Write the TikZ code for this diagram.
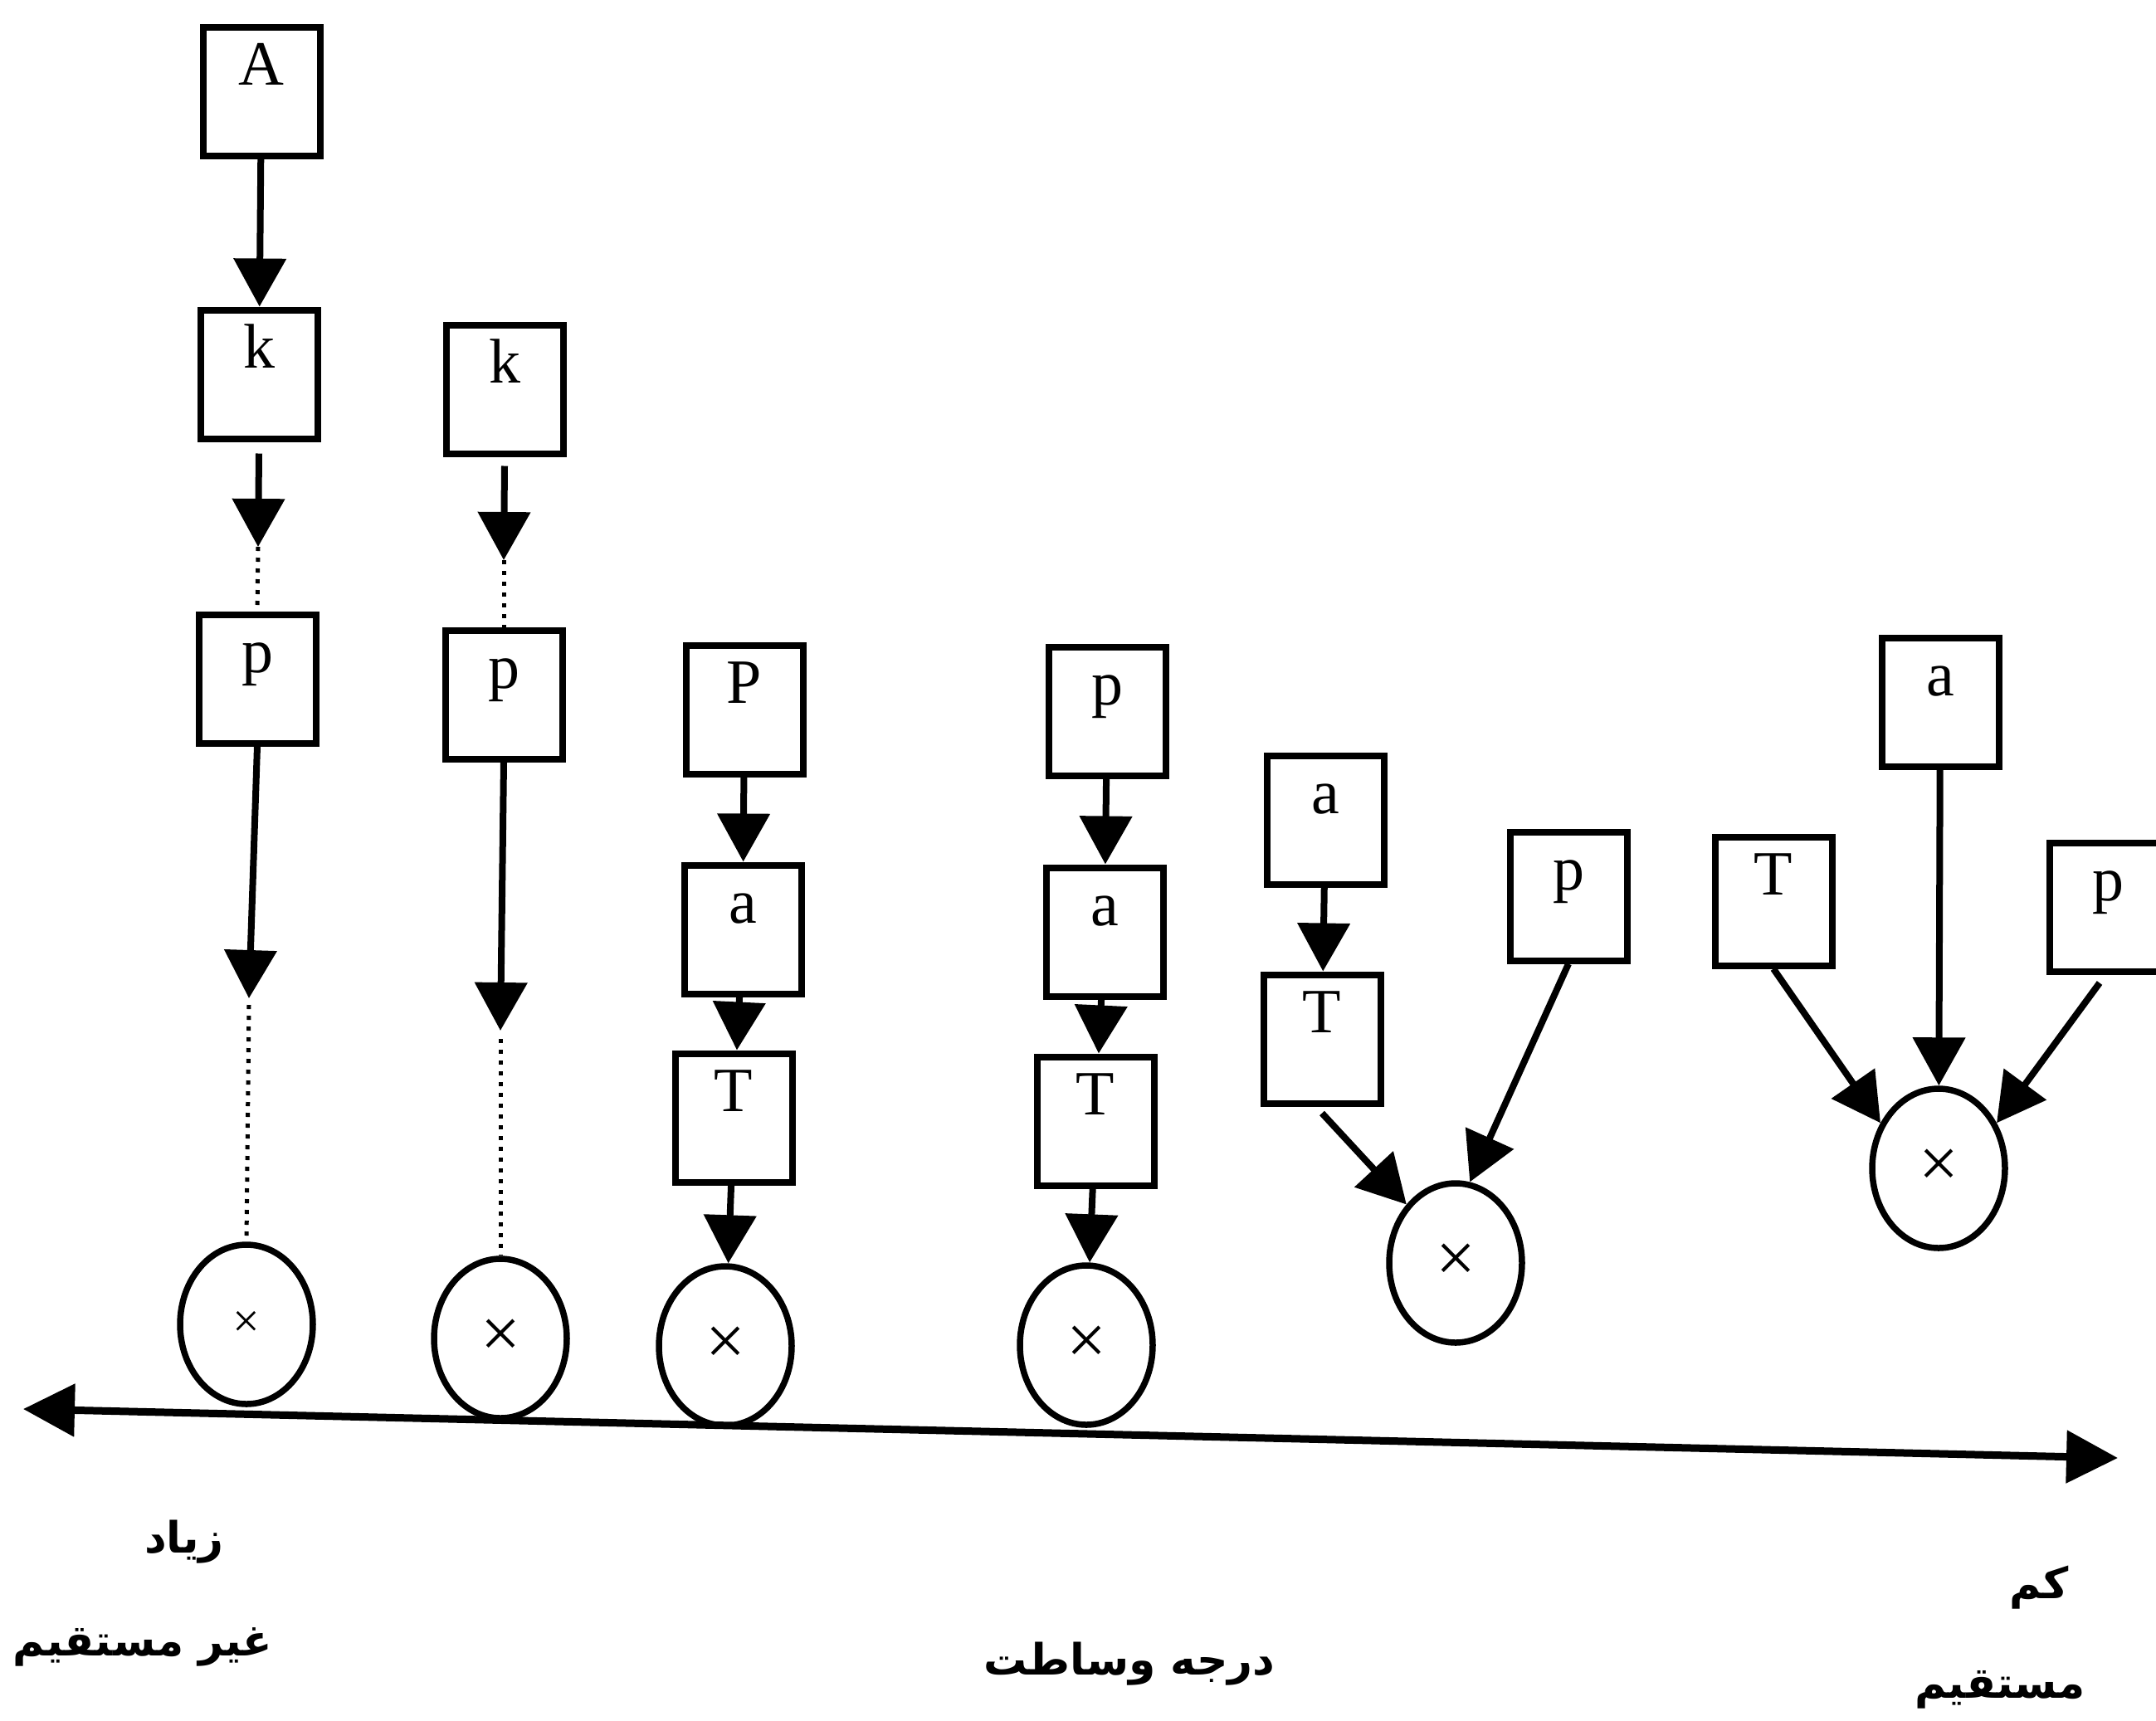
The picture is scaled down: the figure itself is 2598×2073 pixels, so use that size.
\documentclass[tikz,border=0pt]{standalone}
\usepackage{fontspec}
\setmainfont{Liberation Serif}
\newfontfamily\arabicfont[Script=Arabic]{DejaVu Sans}
\TeXXeTstate=1
\usetikzlibrary{arrows.meta,shapes.geometric}
\begin{document}
\begin{tikzpicture}[x=1pt,y=-1pt,
  box/.style={draw, line width=8pt, minimum width=141pt, minimum height=155pt,
    inner xsep=0pt, inner ysep=0pt, text height=70pt, text depth=85pt,
    font=\fontsize{76}{76}\selectfont},
  oval/.style={draw, ellipse, line width=7.5pt, minimum width=160pt, minimum height=192pt,
    inner sep=0pt, font=\fontsize{85}{85}\selectfont},
  arr/.style={line width=8pt, -{Triangle[width=62pt,length=58pt]}},
  dotline/.style={line width=5pt, dash pattern=on 5pt off 8pt},
  fa/.style={font=\arabicfont\bfseries\fontsize{52}{60}\selectfont, inner sep=0pt}
]
\useasboundingbox (0,0) rectangle (2598,2073);
\clip (0,0) rectangle (2598,2073);

% column 1
\node[box] (A) at (315,110) {A};
\node[box] (k1) at (312,451) {k};
\node[box] (p1) at (310,818) {p};
\node[oval, font=\fontsize{58}{58}\selectfont] (e1) at (297,1596) {×};
\coordinate (c1a) at (311,659);
\coordinate (c1b) at (300,1203);
\draw[arr] (A) -- (k1);
\draw[arr] ([yshift=-14pt]k1.south) -- (c1a);
\draw[dotline] (c1a) -- (p1.north);
\draw[arr] (p1.south) -- (c1b);
\draw[dotline] ([yshift=-8pt]c1b) -- (e1.north);

% column 2
\node[box] (k2) at (608,469) {k};
\node[box] (p2) at (607,837) {p};
\node[oval] (e2) at (603,1613) {×};
\coordinate (c2a) at (607,675);
\coordinate (c2b) at (603,1242);
\draw[arr] ([yshift=-11pt]k2.south) -- (c2a);
\draw[dotline] (c2a) -- (p2.north);
\draw[arr] (p2.south) -- (c2b);
\draw[dotline] ([yshift=-10pt]c2b) -- (e2.north);

% column 3
\node[box] (P3) at (897,855) {P};
\node[box] (a3) at (895,1120) {a};
\node[box] (T3) at (884,1347) {T};
\node[oval] (e3) at (874,1622) {×};
\draw[arr] (P3) -- (a3);
\draw[arr] (a3) -- (T3);
\draw[arr] (T3) -- (e3);

% column 4
\node[box] (p4) at (1334,857) {p};
\node[box] (a4) at (1331,1123) {a};
\node[box] (T4) at (1320,1351) {T};
\node[oval] (e4) at (1309,1621) {×};
\draw[arr] (p4) -- (a4);
\draw[arr] (a4) -- (T4);
\draw[arr] (T4) -- (e4);

% column 5
\node[box] (a5) at (1597,988) {a};
\node[box] (T5) at (1593,1252) {T};
\node[box] (p5) at (1890,1080) {p};
\node[oval] (e5) at (1754,1522) {×};
\draw[arr] (a5) -- (T5);
\draw[arr] ([yshift=-8pt]T5.south) -- (e5.130);
\draw[arr] (p5.south) -- (e5.80);

% column 6
\node[box] (a6) at (2338,846) {a};
\node[box] (T6) at (2137,1086) {T};
\node[box] (p6) at (2540,1093) {p};
\node[oval] (e6) at (2336,1408) {×};
\draw[arr] (a6) -- (e6);
\draw[arr] (T6.south) -- (e6.142);
\draw[arr] ([xshift=-10pt,yshift=-10pt]p6.south) -- (e6.38);

% axis
\coordinate (axL) at (28,1698);
\coordinate (axR) at (2552,1757);
\draw[line width=9pt, {Triangle[width=62pt,length=62pt]}-{Triangle[width=62pt,length=62pt]}] (axL) -- (axR);

% labels
\node[fa] (t1) at (222,1858) {\beginR زیاد\endR};
\node[fa] (t2) at (172,1985) {\beginR غیر مستقیم\endR};
\node[fa] (t3) at (1361,2005) {\beginR درجه وساطت\endR};
\node[fa] (t4) at (2457,1913) {\beginR کم\endR};
\node[fa] (t5) at (2410,2036) {\beginR مستقیم\endR};
\end{tikzpicture}
\end{document}
